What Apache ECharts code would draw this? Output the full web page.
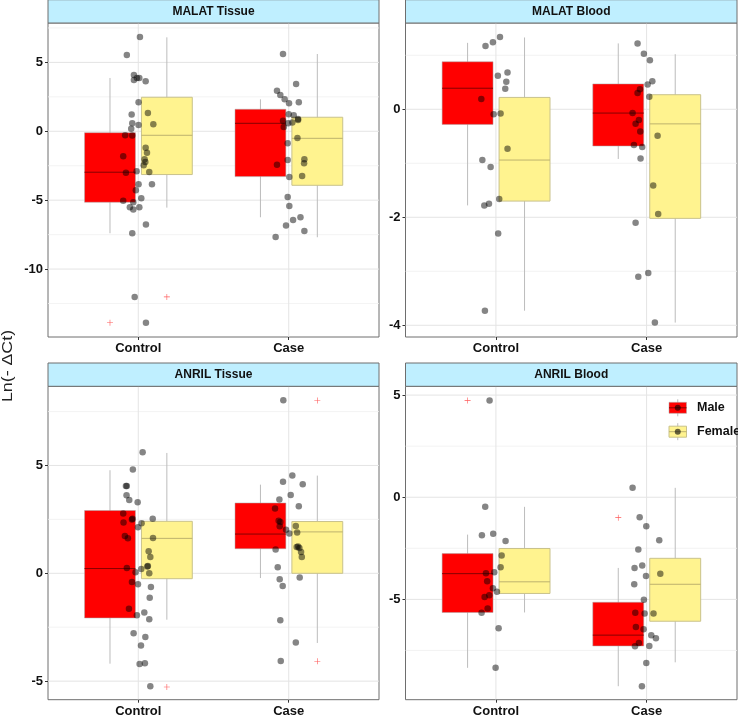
<!DOCTYPE html>
<html><head><meta charset="utf-8">
<script src="https://cdn.jsdelivr.net/npm/echarts@6/dist/echarts.min.js"></script>
<style>html,body{margin:0;padding:0;background:#fff}#c{width:738px;height:718px}</style>
</head><body><div id="c"></div>
<script>
// ---------- DATA ----------
const categories = ['Control', 'Case'];
const sexes = ['Male', 'Female'];
const panelTitles = ['MALAT Tissue', 'MALAT Blood', 'ANRIL Tissue', 'ANRIL Blood'];
const yTitle = 'Ln(- \u0394Ct)';

// y-axis tick labels per panel
const malatTissueTicks = [-10, -5, 0, 5];
const malatBloodTicks = [-4, -2, 0];
const anrilTissueTicks = [-5, 0, 5];
const anrilBloodTicks = [-5, 0, 5];

// box stats per category [Control, Case]: [lower whisker, Q1, median, Q3, upper whisker]
const malatTissueMale   = [[-7.40, -5.15, -2.97, -0.10, 3.87], [-6.24, -3.29, 0.58, 1.60, 2.32]];
const malatTissueFemale = [[-5.54, -3.14, -0.29, 2.47, 6.82], [-7.69, -3.92, -0.51, 1.02, 5.61]];
const malatBloodMale    = [[-1.78, -0.28, 0.39, 0.88, 1.23], [-0.92, -0.68, -0.07, 0.47, 1.22]];
const malatBloodFemale  = [[-3.73, -1.70, -0.94, 0.22, 1.33], [-3.95, -2.02, -0.27, 0.27, 1.02]];
const anrilTissueMale   = [[-4.19, -2.07, 0.22, 2.91, 4.78], [-0.22, 1.14, 1.82, 3.26, 4.11]];
const anrilTissueFemale = [[-2.15, -0.25, 1.62, 2.41, 5.58], [-3.23, 0.00, 1.92, 2.40, 4.53]];
const anrilBloodMale    = [[-8.35, -5.64, -3.74, -2.76, -1.83], [-9.25, -7.28, -6.75, -5.14, -3.46]];
const anrilBloodFemale  = [[-5.64, -4.71, -4.14, -2.51, -0.47], [-8.08, -6.07, -4.26, -2.99, 0.46]];

// outliers: [category index, sex index, value]
const malatTissueOutliers = [[0, 0, -13.9], [0, 1, -12.02]];
const malatBloodOutliers = [];
const anrilTissueOutliers = [[0, 1, -5.27], [1, 1, 8.01], [1, 1, -4.08]];
const anrilBloodOutliers = [[0, 0, 4.73], [1, 0, -1.0]];

// jittered observations: [jitter, value]
const malatTissueControlPts = [[0.011,6.84],[-0.076,5.54],[-0.029,4.09],[-0.009,3.87],[0.007,3.87],[-0.029,3.72],[0.049,3.63],[0.002,2.10],[-0.044,1.21],[-0.040,0.58],[-0.047,0.19],[0.002,0.46],[0.100,0.51],[0.064,1.33],[-0.087,-0.29],[-0.040,-0.31],[0.049,-1.19],[0.058,-1.55],[0.042,-2.03],[0.047,-2.22],[0.036,-2.47],[-0.100,-1.81],[-0.082,-3.00],[-0.011,-2.90],[0.073,-2.95],[0.002,-3.85],[0.091,-3.85],[-0.016,-4.28],[0.020,-4.86],[-0.100,-5.05],[-0.033,-5.15],[-0.056,-5.51],[-0.033,-5.68],[0.007,-5.51],[0.051,-6.77],[-0.040,-7.40],[-0.024,-12.02],[0.051,-13.90]];
const malatTissueCasePts = [[-0.038,5.61],[0.049,3.43],[-0.078,2.95],[-0.056,2.64],[-0.027,2.32],[0.002,2.03],[0.067,2.10],[0.000,1.23],[0.033,1.16],[0.062,0.89],[0.062,0.82],[-0.038,0.77],[-0.004,0.58],[0.024,0.63],[-0.033,0.31],[0.058,-0.48],[-0.007,-0.87],[-0.007,-2.08],[0.104,-2.03],[0.102,-2.32],[-0.078,-2.42],[0.004,-3.31],[0.089,-3.24],[-0.007,-4.76],[0.004,-5.42],[0.029,-6.43],[0.078,-6.24],[-0.018,-6.84],[0.104,-7.23],[-0.087,-7.67]];
const malatBloodControlPts = [[0.027,1.34],[-0.020,1.24],[-0.069,1.17],[0.077,0.68],[0.013,0.62],[0.069,0.51],[0.062,0.38],[-0.097,0.19],[-0.015,-0.09],[0.031,-0.08],[0.077,-0.73],[-0.090,-0.94],[-0.035,-1.07],[0.022,-1.66],[-0.077,-1.78],[-0.046,-1.75],[0.015,-2.30],[-0.073,-3.73]];
const malatBloodCasePts = [[-0.060,1.22],[-0.018,1.03],[0.022,0.91],[0.038,0.52],[0.007,0.46],[-0.044,0.37],[-0.060,0.30],[0.018,0.23],[-0.093,-0.07],[-0.051,-0.20],[-0.073,-0.27],[-0.042,-0.41],[0.073,-0.49],[-0.084,-0.66],[-0.029,-0.70],[-0.040,-0.91],[0.044,-1.41],[0.077,-1.94],[-0.073,-2.10],[-0.055,-3.10],[0.011,-3.03],[0.055,-3.95]];
const anrilTissueControlPts = [[0.029,5.61],[-0.036,4.81],[-0.082,4.05],[-0.076,4.05],[-0.078,3.62],[-0.060,3.40],[-0.004,3.29],[-0.100,2.77],[-0.098,2.36],[-0.042,2.50],[-0.038,2.53],[0.022,2.32],[0.096,2.53],[-0.002,2.13],[-0.089,1.73],[-0.069,1.62],[0.098,1.64],[0.069,1.02],[0.080,0.76],[0.064,0.34],[0.060,0.31],[0.020,0.20],[-0.076,0.25],[-0.018,0.05],[0.073,0.00],[-0.042,-0.40],[-0.002,-0.51],[0.084,-0.63],[0.076,-1.13],[-0.062,-1.64],[-0.009,-1.95],[0.040,-1.82],[0.073,-2.13],[-0.031,-2.78],[0.047,-2.95],[0.018,-3.35],[0.009,-4.20],[0.044,-4.17],[0.080,-5.24]];
const anrilTissueCasePts = [[-0.036,8.02],[0.024,4.53],[-0.038,4.24],[0.093,4.13],[0.013,3.63],[-0.062,3.42],[0.067,3.11],[-0.091,3.00],[-0.067,2.44],[-0.056,2.38],[0.047,2.19],[-0.060,2.18],[-0.018,2.02],[0.056,1.89],[0.004,1.84],[0.062,1.24],[0.071,1.17],[0.053,1.22],[0.082,0.99],[-0.087,1.10],[0.087,0.76],[-0.073,0.28],[-0.060,-0.28],[-0.040,-0.59],[0.073,-0.20],[-0.056,-2.18],[0.047,-3.21],[-0.053,-4.06]];
const anrilBloodControlPts = [[-0.042,4.73],[-0.071,-0.46],[-0.093,-1.86],[-0.018,-1.79],[0.064,-2.14],[0.038,-2.85],[0.031,-3.43],[-0.066,-3.72],[-0.011,-3.67],[-0.058,-4.11],[-0.020,-4.45],[0.007,-4.63],[-0.044,-4.80],[-0.075,-4.88],[-0.055,-5.45],[-0.095,-5.66],[0.018,-6.41],[-0.002,-8.35]];
const anrilBloodCasePts = [[-0.093,0.46],[-0.046,-0.98],[-0.002,-1.42],[0.084,-2.10],[-0.055,-2.56],[-0.029,-3.34],[-0.080,-3.46],[0.091,-3.75],[-0.004,-3.85],[-0.082,-4.26],[-0.018,-5.02],[-0.075,-5.66],[-0.013,-5.69],[0.046,-5.69],[-0.071,-6.35],[-0.020,-6.46],[0.031,-6.75],[0.062,-6.90],[-0.051,-7.13],[-0.077,-7.29],[0.018,-7.28],[-0.002,-8.11],[-0.031,-9.25]];

// ---------- LAYOUT / STYLE ----------
const FONT = 'Liberation Sans, Arial, sans-serif';
const sexColors = ['#FF0000', '#FFF38F'];
const medianColors = ['#860000', '#bdb26e'];
const dodge = [-0.188, 0.19];
const boxW = 0.338;
const XMIN = 0.4, XMAX = 2.6;

const panels = [
  {title: panelTitles[0], left: 48, top: 23, width: 331, height: 314, ymin: -14.93, ymax: 7.86, ticks: malatTissueTicks,
   male: malatTissueMale, female: malatTissueFemale, outliers: malatTissueOutliers, pts: [malatTissueControlPts, malatTissueCasePts]},
  {title: panelTitles[1], left: 405.5, top: 23, width: 331.5, height: 314, ymin: -4.217, ymax: 1.598, ticks: malatBloodTicks,
   male: malatBloodMale, female: malatBloodFemale, outliers: malatBloodOutliers, pts: [malatBloodControlPts, malatBloodCasePts]},
  {title: panelTitles[2], left: 48, top: 386.3, width: 331, height: 313.4, ymin: -5.86, ymax: 8.67, ticks: anrilTissueTicks,
   male: anrilTissueMale, female: anrilTissueFemale, outliers: anrilTissueOutliers, pts: [anrilTissueControlPts, anrilTissueCasePts]},
  {title: panelTitles[3], left: 405.5, top: 386.3, width: 331.5, height: 313.4, ymin: -9.91, ymax: 5.43, ticks: anrilBloodTicks,
   male: anrilBloodMale, female: anrilBloodFemale, outliers: anrilBloodOutliers, pts: [anrilBloodControlPts, anrilBloodCasePts]}
];
const stripH = 23.3;

const grids = [], xAxes = [], yAxes = [], series = [], graphics = [];

panels.forEach((p, i) => {
  grids.push({left: p.left, top: p.top, width: p.width, height: p.height, show: true,
    backgroundColor: '#fff', borderColor: '#6e6e6e', borderWidth: 1, containLabel: false});
  xAxes.push({gridIndex: i, type: 'value', min: XMIN, max: XMAX, position: 'bottom',
    axisLine: {show: false, onZero: false}, splitLine: {show: false},
    axisTick: {show: true, customValues: [1, 2], length: 3, lineStyle: {color: '#333'}},
    axisLabel: {customValues: [1, 2], formatter: v => categories[Math.round(v) - 1],
      fontFamily: FONT, fontSize: 13, fontWeight: 'bold', color: '#111', margin: 5}});
  yAxes.push({gridIndex: i, type: 'value', min: p.ymin, max: p.ymax, position: 'left',
    axisLine: {show: false, onZero: false}, splitLine: {show: false},
    axisTick: {show: true, customValues: p.ticks, length: 3, lineStyle: {color: '#333'}},
    axisLabel: {customValues: p.ticks, fontFamily: FONT, fontSize: 13, fontWeight: 'bold', color: '#111', margin: 5}});

  // gridlines
  const step = p.ticks[1] - p.ticks[0];
  const gl = [];
  p.ticks.forEach(t => gl.push([0, t, 1]));
  const minors = p.ticks.map(t => t - step / 2).concat([p.ticks[p.ticks.length - 1] + step / 2]);
  minors.filter(m => m > p.ymin && m < p.ymax).forEach(m => gl.push([0, m, 0]));
  [1, 2].forEach(c => gl.push([1, c, 1]));
  series.push({type: 'custom', xAxisIndex: i, yAxisIndex: i, silent: true, z: 1, clip: true,
    data: gl,
    renderItem: (params, api) => {
      const o = api.value(0), v = api.value(1), major = api.value(2);
      let a, b;
      if (o === 0) { a = api.coord([XMIN, v]); b = api.coord([XMAX, v]); }
      else { a = api.coord([v, p.ymin]); b = api.coord([v, p.ymax]); }
      return {type: 'line', shape: {x1: a[0], y1: a[1], x2: b[0], y2: b[1]},
        style: {stroke: major ? '#e4e4e4' : '#f0f0f0', lineWidth: major ? 1 : 0.8}};
    }});

  // boxes
  const boxData = [];
  [p.male, p.female].forEach((arr, s) => arr.forEach((st, c) => boxData.push([c + 1 + dodge[s]].concat(st).concat([s]))));
  series.push({type: 'custom', xAxisIndex: i, yAxisIndex: i, silent: true, z: 2,
    data: boxData, encode: {x: 0, y: [1, 2, 3, 4, 5]},
    renderItem: (params, api) => {
      const x = api.value(0), s = api.value(6);
      const lo = api.coord([x, api.value(1)]), hi = api.coord([x, api.value(5)]);
      const tl = api.coord([x - boxW / 2, api.value(4)]), br = api.coord([x + boxW / 2, api.value(2)]);
      const md = api.coord([x, api.value(3)]);
      return {type: 'group', children: [
        {type: 'line', shape: {x1: lo[0], y1: lo[1], x2: hi[0], y2: hi[1]}, style: {stroke: '#bcbcbc', lineWidth: 1}},
        {type: 'rect', shape: {x: tl[0], y: tl[1], width: br[0] - tl[0], height: br[1] - tl[1]},
          style: {fill: sexColors[s], stroke: s === 0 ? 'rgba(170,170,170,0.5)' : '#c9c28c', lineWidth: 1}},
        {type: 'line', shape: {x1: tl[0], y1: md[1], x2: br[0], y2: md[1]}, style: {stroke: medianColors[s], lineWidth: 1}}
      ]};
    }});

  // points
  const ptData = [];
  p.pts.forEach((arr, c) => arr.forEach(d => ptData.push([c + 1 + d[0], d[1]])));
  series.push({type: 'scatter', xAxisIndex: i, yAxisIndex: i, z: 3, silent: true,
    symbol: 'circle', symbolSize: 6.5, data: ptData,
    itemStyle: {color: 'rgba(0,0,0,0.6)', borderWidth: 0}});

  // outliers
  series.push({type: 'scatter', xAxisIndex: i, yAxisIndex: i, z: 4, silent: true,
    symbol: 'path://M4.5,0h1v4.5h4.5v1h-4.5v4.5h-1v-4.5h-4.5v-1h4.5z', symbolSize: 6,
    data: p.outliers.map(o => [o[0] + 1 + dodge[o[1]], o[2]]),
    itemStyle: {color: '#ff3030'}});

  // strip
  graphics.push({type: 'rect', shape: {x: p.left, y: p.top - stripH, width: p.width, height: stripH},
    style: {fill: '#BFEFFF', stroke: '#6e6e6e', lineWidth: 1}, z: 10});
  graphics.push({type: 'text', x: p.left + p.width / 2, y: p.top - stripH / 2,
    style: {text: p.title, fontFamily: FONT, fontSize: 12, fontWeight: 'bold', fill: '#111',
      align: 'center', verticalAlign: 'middle'}, z: 11});
});

// y title
graphics.push({type: 'text', x: 8.5, y: 366, rotation: Math.PI / 2, scaleX: 1.27,
  style: {text: yTitle, fontFamily: FONT, fontSize: 14, fill: '#222', align: 'center', verticalAlign: 'middle'}, z: 11});

// legend
sexes.forEach((name, s) => {
  const ky = s === 0 ? 402.3 : 426.2;
  const kx = 669, kw = 17.5, kh = 11;
  graphics.push({type: 'line', shape: {x1: kx + kw / 2, y1: ky - 3, x2: kx + kw / 2, y2: ky + kh + 3}, style: {stroke: '#bcbcbc', lineWidth: 1}, z: 20});
  graphics.push({type: 'rect', shape: {x: kx, y: ky, width: kw, height: kh},
    style: {fill: sexColors[s], stroke: s === 0 ? 'rgba(170,170,170,0.5)' : '#c9c28c', lineWidth: 1}, z: 21});
  graphics.push({type: 'line', shape: {x1: kx, y1: ky + kh / 2, x2: kx + kw, y2: ky + kh / 2}, style: {stroke: medianColors[s], lineWidth: 1}, z: 22});
  graphics.push({type: 'circle', shape: {cx: kx + kw / 2, cy: ky + kh / 2, r: 3}, style: {fill: 'rgba(0,0,0,0.6)'}, z: 23});
  graphics.push({type: 'text', x: 697, y: ky + kh / 2,
    style: {text: name, fontFamily: FONT, fontSize: 12.5, fontWeight: 'bold', fill: '#111', verticalAlign: 'middle'}, z: 23});
});

const chart = echarts.init(document.getElementById('c'), null, {renderer: 'canvas'});
chart.setOption({
  animation: false,
  backgroundColor: '#fff',
  grid: grids, xAxis: xAxes, yAxis: yAxes, series: series, graphic: graphics
});
</script></body></html>
